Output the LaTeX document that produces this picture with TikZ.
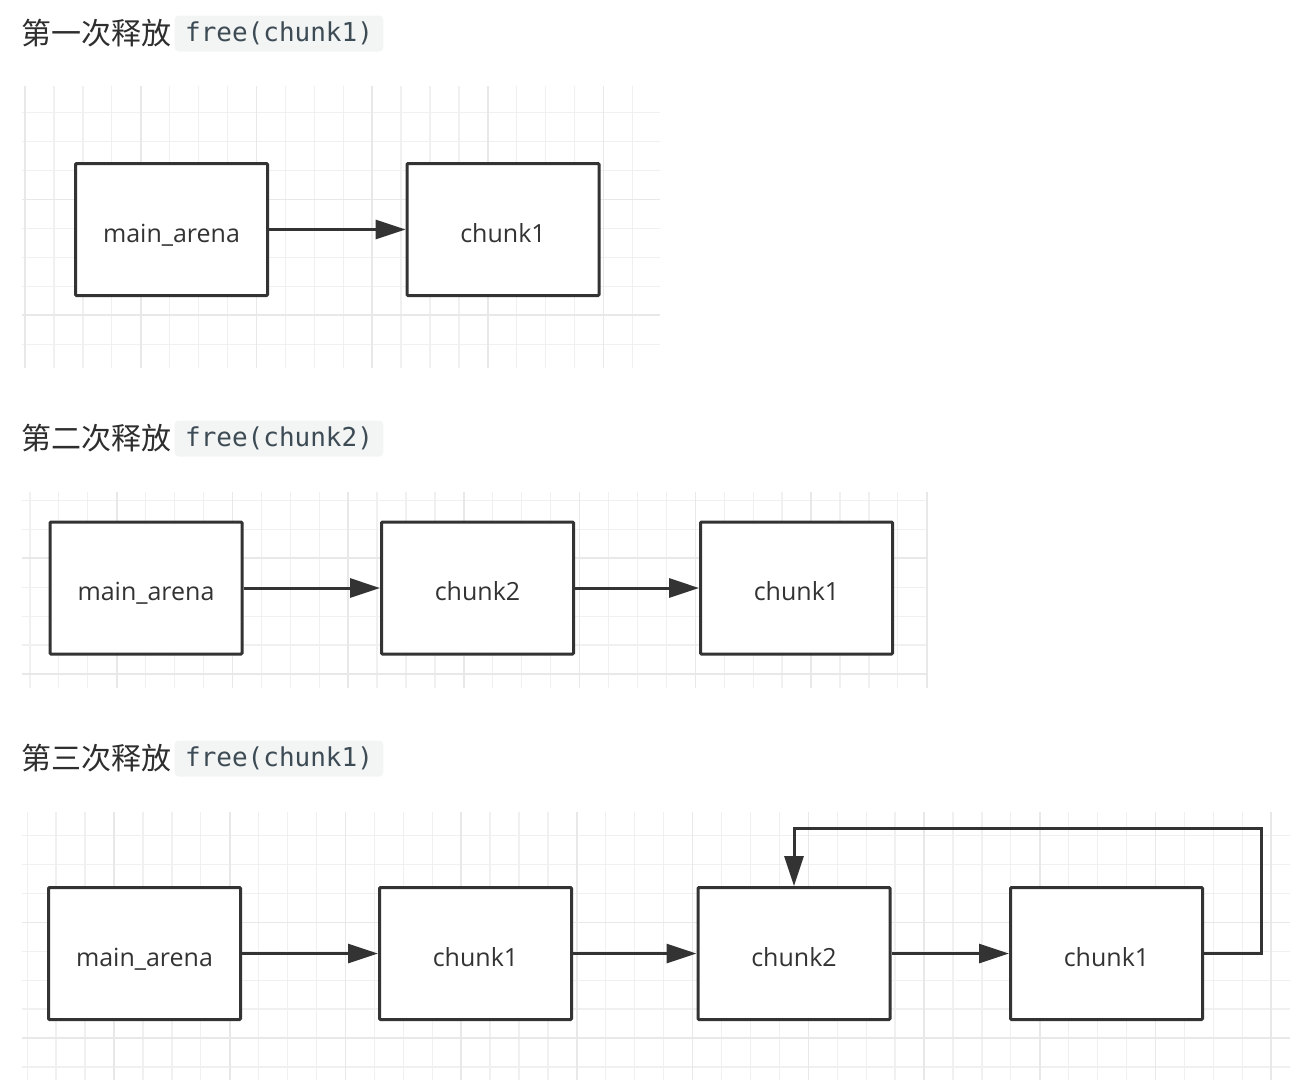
\documentclass[tikz,border=0pt]{standalone}
\usepackage{fontspec}
\setmainfont{Open Sans}
\setmonofont{DejaVu Sans Mono}
\newfontfamily\cjk{Noto Sans CJK SC}
\usetikzlibrary{arrows.meta,positioning}

\definecolor{boxline}{HTML}{333333}
\definecolor{labelc}{HTML}{333333}
\definecolor{titlec}{HTML}{2E2E2E}
\definecolor{codebg}{HTML}{F3F4F4}
\definecolor{codefg}{HTML}{3D4B55}
\definecolor{gridlite}{HTML}{F0F0F0}
\definecolor{griddark}{HTML}{E8E8E8}

% background grid of one panel: left, top, right, bottom, a major x, a major y
\newcommand{\panelgrid}[6]{%
  \begin{scope}
    \clip (#1,#2) rectangle (#3,#4);
    \foreach \k in {-8,...,48} {
      \draw[minorline] ({#5+28.93*\k},#2) -- ({#5+28.93*\k},#4);
    }
    \foreach \k in {-8,...,12} {
      \draw[minorline] (#1,{#6+28.93*\k}) -- (#3,{#6+28.93*\k});
    }
    \foreach \k in {-2,...,12} {
      \draw[majorline] ({#5+115.72*\k},#2) -- ({#5+115.72*\k},#4);
    }
    \foreach \k in {-2,...,3} {
      \draw[majorline] (#1,{#6+115.72*\k}) -- (#3,{#6+115.72*\k});
    }
  \end{scope}}

\begin{document}
\begin{tikzpicture}[x=1pt, y=-1pt,
    minorline/.style={draw=gridlite, line width=1.3pt},
    majorline/.style={draw=griddark, line width=1.6pt},
    chunk/.style={draw=boxline, line width=3pt, fill=white, rounded corners=1pt,
      minimum width=192pt, minimum height=132pt, text=labelc,
      font=\fontsize{25}{30}\selectfont, text height=25.6pt, text depth=0pt},
    link/.style={draw=boxline, line width=3pt, -{Triangle[length=30pt, width=19pt]}},
    title/.style={anchor=west, inner sep=0pt, text=titlec, font=\cjk\fontsize{30}{36}\selectfont},
    code/.style={fill=codebg, rounded corners=4pt, inner xsep=10.5pt, inner ysep=0pt,
      minimum height=36pt, text=codefg, font=\ttfamily\fontsize{26}{30}\selectfont}]
  \useasboundingbox (0,0) rectangle (1304,1080);

  % first free
  \node[title] (t1) at (21,33.5) {第一次释放};
  \node[code, right=3pt of t1] (f1) {free(chunk1)};
  \panelgrid{22}{86}{660}{368}{25}{199.5}
  \node[chunk] (ma1) at (171.5,229.5) {main\_arena};
  \node[chunk] (c11) at (503,229.5) {chunk1};
  \draw[link] (ma1.east) -- (c11.west);

  % second free
  \node[title] (t2) at (21,438.5) {第二次释放};
  \node[code, right=3pt of t2] (f2) {free(chunk2)};
  \panelgrid{22}{492}{928}{688}{116.7}{674}
  \node[chunk] (ma2) at (146,588) {main\_arena};
  \node[chunk] (c22) at (477.5,588) {chunk2};
  \node[chunk] (c21) at (796.5,588) {chunk1};
  \draw[link] (ma2.east) -- (c22.west);
  \draw[link] (c22.east) -- (c21.west);

  % third free
  \node[title] (t3) at (21,758.5) {第三次释放};
  \node[code, right=3pt of t3] (f3) {free(chunk1)};
  \panelgrid{22}{812}{1290}{1080}{114}{922.3}
  \node[chunk] (ma3) at (144.5,953.5) {main\_arena};
  \node[chunk] (c31) at (475.5,953.5) {chunk1};
  \node[chunk] (c32) at (794,953.5) {chunk2};
  \node[chunk] (c33) at (1106.5,953.5) {chunk1};
  \coordinate (back) at (1261,828);
  \draw[link] (ma3.east) -- (c31.west);
  \draw[link] (c31.east) -- (c32.west);
  \draw[link] (c32.east) -- (c33.west);
  \draw[link] (c33.east) -| (back) -| (c32.north);
\end{tikzpicture}
\end{document}
